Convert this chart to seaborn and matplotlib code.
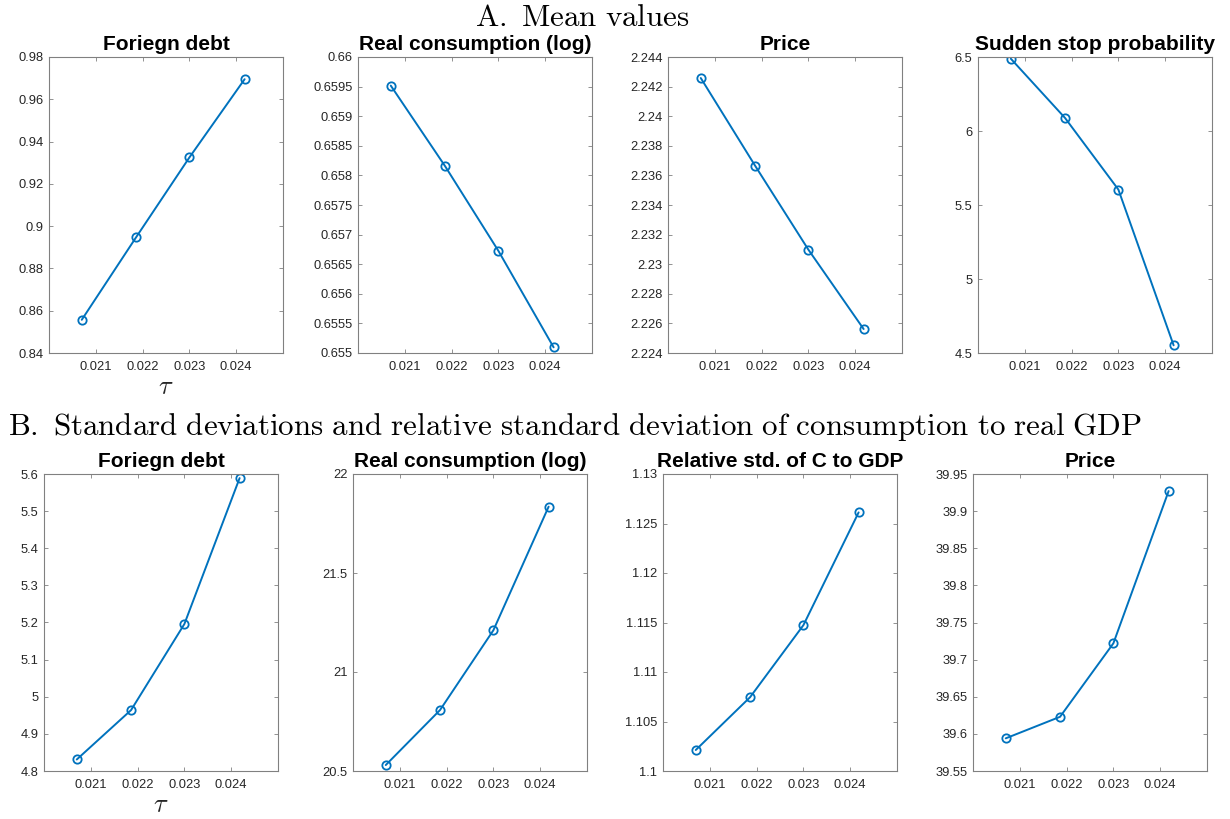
import matplotlib
matplotlib.use("Agg")
import matplotlib.pyplot as plt
import seaborn as sns
import pandas as pd

# Tax rate grid (tau)
tau = [0.0207, 0.02186, 0.0230, 0.02418]

# Panel A: mean values
mean_debt = [0.8557, 0.8947, 0.9325, 0.9695]
mean_cons = [0.659517, 0.658157, 0.656725, 0.655096]
mean_price = [2.24258, 2.23666, 2.23098, 2.22562]
mean_ss_prob = [6.489, 6.088, 5.604, 4.552]

# Panel B: standard deviations
std_debt = [4.831, 4.964, 5.196, 5.589]
std_cons = [20.530, 20.808, 21.211, 21.835]
rel_std_c_gdp = [1.10212, 1.10745, 1.11473, 1.12612]
std_price = [39.594, 39.623, 39.722, 39.927]

titles_a = ["Foriegn debt", "Real consumption (log)", "Price", "Sudden stop probability"]
titles_b = ["Foriegn debt", "Real consumption (log)", "Relative std. of C to GDP", "Price"]

xticks = [0.021, 0.022, 0.023, 0.024]

panels_a = [
    (mean_debt, (0.84, 0.98), [0.84, 0.86, 0.88, 0.90, 0.92, 0.94, 0.96, 0.98],
     ["0.84", "0.86", "0.88", "0.9", "0.92", "0.94", "0.96", "0.98"]),
    (mean_cons, (0.655, 0.660),
     [0.655, 0.6555, 0.656, 0.6565, 0.657, 0.6575, 0.658, 0.6585, 0.659, 0.6595, 0.660],
     ["0.655", "0.6555", "0.656", "0.6565", "0.657", "0.6575", "0.658", "0.6585", "0.659", "0.6595", "0.66"]),
    (mean_price, (2.224, 2.244),
     [2.224, 2.226, 2.228, 2.230, 2.232, 2.234, 2.236, 2.238, 2.240, 2.242, 2.244],
     ["2.224", "2.226", "2.228", "2.23", "2.232", "2.234", "2.236", "2.238", "2.24", "2.242", "2.244"]),
    (mean_ss_prob, (4.5, 6.5), [4.5, 5.0, 5.5, 6.0, 6.5], ["4.5", "5", "5.5", "6", "6.5"]),
]
panels_b = [
    (std_debt, (4.8, 5.6), [4.8, 4.9, 5.0, 5.1, 5.2, 5.3, 5.4, 5.5, 5.6],
     ["4.8", "4.9", "5", "5.1", "5.2", "5.3", "5.4", "5.5", "5.6"]),
    (std_cons, (20.5, 22.0), [20.5, 21.0, 21.5, 22.0], ["20.5", "21", "21.5", "22"]),
    (rel_std_c_gdp, (1.10, 1.13), [1.10, 1.105, 1.11, 1.115, 1.12, 1.125, 1.13],
     ["1.1", "1.105", "1.11", "1.115", "1.12", "1.125", "1.13"]),
    (std_price, (39.55, 39.95), [39.55, 39.60, 39.65, 39.70, 39.75, 39.80, 39.85, 39.90, 39.95],
     ["39.55", "39.6", "39.65", "39.7", "39.75", "39.8", "39.85", "39.9", "39.95"]),
]

sns.set_theme(style="ticks")
plt.rcParams["font.family"] = ["Liberation Sans", "DejaVu Sans"]
plt.rcParams["mathtext.fontset"] = "cm"

LINE = "#0072BD"
SPINE = "#808080"
TXT = "#262626"

fig = plt.figure(figsize=(12.3, 8.19), dpi=100)

W, H = 1230, 819
lefts_a = [49, 358, 668, 978]
lefts_b = [44, 353, 663, 973]
ax_w = 234
rows = [(lefts_a, 57, 353, titles_a, panels_a), (lefts_b, 474, 771, titles_b, panels_b)]


def style_axes(ax, ylim, yticks, ylabels):
    ax.set_xlim(0.0200, 0.0250)
    ax.set_ylim(*ylim)
    ax.set_xticks(xticks)
    ax.set_xticklabels([f"{t:.3f}" for t in xticks])
    ax.set_yticks(yticks)
    ax.set_yticklabels(ylabels)
    for s in ax.spines.values():
        s.set_visible(True)
        s.set_color(SPINE)
        s.set_linewidth(0.8)
    ax.tick_params(direction="in", length=3, width=0.6, color=SPINE,
                   top=True, right=True, labelsize=9.3, labelcolor=TXT)
    ax.tick_params(axis="y", pad=4)
    ax.tick_params(axis="x", pad=6)
    ax.set_xlabel("")
    ax.set_ylabel("")


for lefts, top, bottom, titles, panels in rows:
    for i, (left, title, (vals, ylim, yticks, ylabels)) in enumerate(zip(lefts, titles, panels)):
        ax = fig.add_axes([left / W, 1 - bottom / H, ax_w / W, (bottom - top) / H])
        df = pd.DataFrame({"tau": tau, "value": vals})
        sns.lineplot(data=df, x="tau", y="value", ax=ax, color=LINE, linewidth=1.4,
                     marker="o", markersize=6, markerfacecolor="none",
                     markeredgecolor=LINE, markeredgewidth=1.3)
        style_axes(ax, ylim, yticks, ylabels)
        ax.set_title(title, fontsize=15, fontweight="bold", color="black", pad=5)
        if i == 0:
            ax.set_xlabel(r"$\tau$", fontsize=19, color=TXT, labelpad=1)

fig.text(582 / W, 1 - 18 / H, r"$\mathrm{A.\ Mean\ values}$", ha="center", va="center",
         fontsize=22.3, color="black")
fig.text(8 / W, 1 - 427 / H,
         r"$\mathrm{B.\ Standard\ deviations\ and\ relative\ standard\ deviation\ of\ consumption\ to\ real\ GDP}$",
         ha="left", va="center", fontsize=22.3, color="black")

fig.savefig("out.png", dpi=100, facecolor="white")
